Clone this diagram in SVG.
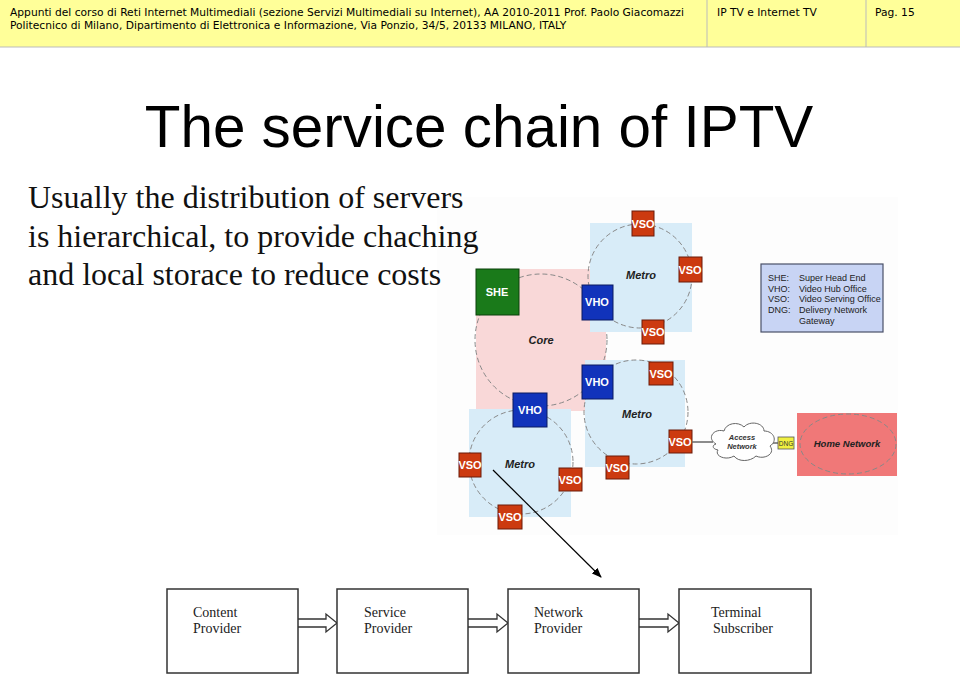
<svg xmlns="http://www.w3.org/2000/svg" width="960" height="676" viewBox="0 0 960 676">
<defs>
<style>
.hdr{font-family:"DejaVu Sans",sans-serif;font-size:10.7px;fill:#000}
.body{font-family:"Liberation Serif",serif;font-size:32px;fill:#111}
.box{fill:#fff;stroke:#333;stroke-width:1.5}
.btxt{font-family:"Liberation Serif",serif;font-size:14px;fill:#222}
.circ{fill:none;stroke:#888;stroke-width:1;stroke-dasharray:5,3}
.vso{fill:#cc3a10;stroke:#6a1a08;stroke-width:1}
.vho{fill:#1133bb;stroke:#0a1a60;stroke-width:1}
.lbl{font-family:"Liberation Sans",sans-serif;font-weight:bold;fill:#fff;font-size:11px;text-anchor:middle}
.met{font-family:"Liberation Sans",sans-serif;font-style:italic;font-weight:bold;fill:#222;font-size:11px;text-anchor:middle}
.leg{font-family:"Liberation Sans",sans-serif;font-size:9px;fill:#222}
.harrow{fill:#fff;stroke:#333;stroke-width:1.3}
</style>
<marker id="ah" markerWidth="10" markerHeight="8" refX="9" refY="4" orient="auto" markerUnits="userSpaceOnUse">
<path d="M0,0 L10,4 L0,8 Z" fill="#000"/>
</marker>
</defs>
<rect width="960" height="676" fill="#fff"/>
<g id="header">
<rect x="0" y="0" width="960" height="47" fill="#ffff99"/>
<line x1="0" y1="47" x2="960" y2="47" stroke="#bbb" stroke-width="1"/>
<line x1="707" y1="0" x2="707" y2="47" stroke="#bbb" stroke-width="1"/>
<line x1="866" y1="0" x2="866" y2="47" stroke="#bbb" stroke-width="1"/>
<text class="hdr" x="10" y="16">Appunti del corso di Reti Internet Multimediali (sezione Servizi Multimediali su Internet), AA 2010-2011 Prof. Paolo Giacomazzi</text>
<text class="hdr" x="10" y="29">Politecnico di Milano, Dipartimento di Elettronica e Informazione, Via Ponzio, 34/5, 20133 MILANO, ITALY</text>
<text class="hdr" x="717" y="16">IP TV e Internet TV</text>
<text class="hdr" x="875" y="16">Pag. 15</text>
</g>
<text x="479" y="147" text-anchor="middle" font-family="Liberation Sans, sans-serif" font-size="58.4" fill="#000">The service chain of IPTV</text>
<g id="network">
<rect x="437" y="197" width="461" height="338" fill="#fdfdfd"/>
<rect x="476" y="269" width="130" height="142" fill="#f9d8d8"/>
<circle cx="541" cy="340" r="66" class="circ"/>
<text class="met" x="541" y="344">Core</text>
<rect x="590" y="223" width="102" height="109" fill="#d8ecf8"/>
<circle cx="640" cy="276" r="52" class="circ"/>
<text class="met" x="641" y="279">Metro</text>
<rect x="585" y="360" width="100" height="107" fill="#d8ecf8"/>
<circle cx="636" cy="412" r="52" class="circ"/>
<text class="met" x="637" y="418">Metro</text>
<rect x="469" y="409" width="102" height="108" fill="#d8ecf8"/>
<circle cx="521" cy="462" r="52" class="circ"/>
<text class="met" x="520" y="468">Metro</text>
<g id="she"><rect x="476" y="269" width="43" height="46" fill="#1a7a1a" stroke="#0a400a"/><text class="lbl" x="497" y="296">SHE</text></g>
<g id="vho1"><rect x="582" y="285" width="31" height="35" class="vho"/><text class="lbl" x="597" y="306">VHO</text></g>
<g id="vho2"><rect x="582" y="365" width="31" height="34" class="vho"/><text class="lbl" x="597" y="386">VHO</text></g>
<g id="vho3"><rect x="513" y="393" width="34" height="34" class="vho"/><text class="lbl" x="530" y="414">VHO</text></g>
<g id="vso1"><rect x="632" y="211" width="22" height="25" class="vso"/><text class="lbl" x="643" y="228">VSO</text></g>
<g id="vso2"><rect x="679" y="257" width="23" height="25" class="vso"/><text class="lbl" x="690" y="274">VSO</text></g>
<g id="vso3"><rect x="642" y="320" width="22" height="24" class="vso"/><text class="lbl" x="653" y="336">VSO</text></g>
<g id="vso4"><rect x="649" y="362" width="24" height="23" class="vso"/><text class="lbl" x="661" y="378">VSO</text></g>
<g id="vso5"><rect x="669" y="430" width="23" height="23" class="vso"/><text class="lbl" x="680" y="446">VSO</text></g>
<g id="vso6"><rect x="606" y="456" width="23" height="23" class="vso"/><text class="lbl" x="617" y="472">VSO</text></g>
<g id="vso7"><rect x="459" y="453" width="22" height="24" class="vso"/><text class="lbl" x="470" y="469">VSO</text></g>
<g id="vso8"><rect x="559" y="468" width="23" height="23" class="vso"/><text class="lbl" x="570" y="484">VSO</text></g>
<g id="vso9"><rect x="498" y="505" width="24" height="24" class="vso"/><text class="lbl" x="510" y="521">VSO</text></g>
<line x1="692" y1="442" x2="713" y2="442" stroke="#666" stroke-width="1.5"/>
<line x1="773" y1="443" x2="778" y2="443" stroke="#666" stroke-width="1.5"/>
<g id="access">
<path d="M716,444 C706,438 714,428 724,431 C726,423 738,421 744,427 C750,420 764,423 764,431 C774,431 778,441 770,446 C776,454 764,460 756,456 C750,462 738,462 734,456 C726,461 714,456 718,450 C712,449 712,445 716,444 Z" fill="#fff" stroke="#666" stroke-width="1"/>
<text x="742" y="440" font-family="Liberation Sans, sans-serif" font-size="7.5" font-style="italic" font-weight="bold" fill="#333" text-anchor="middle">Access</text>
<text x="742" y="449" font-family="Liberation Sans, sans-serif" font-size="7.5" font-style="italic" font-weight="bold" fill="#333" text-anchor="middle">Network</text>
</g>
<g id="dng"><rect x="778" y="437" width="16" height="12" fill="#f0f040" stroke="#555" stroke-width="0.8"/><text x="786" y="446" font-family="Liberation Sans, sans-serif" font-size="6.5" fill="#333" text-anchor="middle">DNG</text></g>
<g id="home">
<rect x="797" y="413" width="100" height="63" fill="#f07878"/>
<ellipse cx="848" cy="444" rx="48" ry="30" class="circ"/>
<text x="847" y="447" font-family="Liberation Sans, sans-serif" font-size="9.5" font-style="italic" font-weight="bold" fill="#222" text-anchor="middle">Home Network</text>
</g>
<g id="legend">
<rect x="761" y="264" width="122" height="68" fill="#c8d4f4" stroke="#4a5068" stroke-width="1.2"/>
<text class="leg" x="768" y="281">SHE:</text><text class="leg" x="799" y="281">Super Head End</text>
<text class="leg" x="768" y="292">VHO:</text><text class="leg" x="799" y="292">Video Hub Office</text>
<text class="leg" x="768" y="302">VSO:</text><text class="leg" x="799" y="302">Video Serving Office</text>
<text class="leg" x="768" y="313">DNG:</text><text class="leg" x="799" y="313">Delivery Network</text>
<text class="leg" x="799" y="324">Gateway</text>
</g>
</g>
<g id="bodytext">
<text class="body" x="28" y="208">Usually the distribution of servers</text>
<text class="body" x="28" y="247">is hierarchical, to provide chaching</text>
<text class="body" x="28" y="285">and local storace to reduce costs</text>
</g>
<g id="connectors">
<line x1="493" y1="470" x2="601" y2="577" stroke="#000" stroke-width="1.2" marker-end="url(#ah)"/>
<path class="harrow" d="M298,619 L326,619 L326,614 L337,623 L326,632 L326,627 L298,627"/>
<path class="harrow" d="M468,619 L497,619 L497,614 L508,623 L497,632 L497,627 L468,627"/>
<path class="harrow" d="M639,619 L668,619 L668,614 L679,623 L668,632 L668,627 L639,627"/>
</g>
<g id="content"><rect class="box" x="167" y="589" width="131" height="84"/><text class="btxt" x="193" y="617">Content</text><text class="btxt" x="193" y="633">Provider</text></g>
<g id="service"><rect class="box" x="337" y="589" width="131" height="84"/><text class="btxt" x="364" y="617">Service</text><text class="btxt" x="364" y="633">Provider</text></g>
<g id="networkp"><rect class="box" x="508" y="589" width="131" height="84"/><text class="btxt" x="534" y="617">Network</text><text class="btxt" x="534" y="633">Provider</text></g>
<g id="terminal"><rect class="box" x="679" y="589" width="132" height="84"/><text class="btxt" x="711" y="617">Terminal</text><text class="btxt" x="713" y="633">Subscriber</text></g>
</svg>
